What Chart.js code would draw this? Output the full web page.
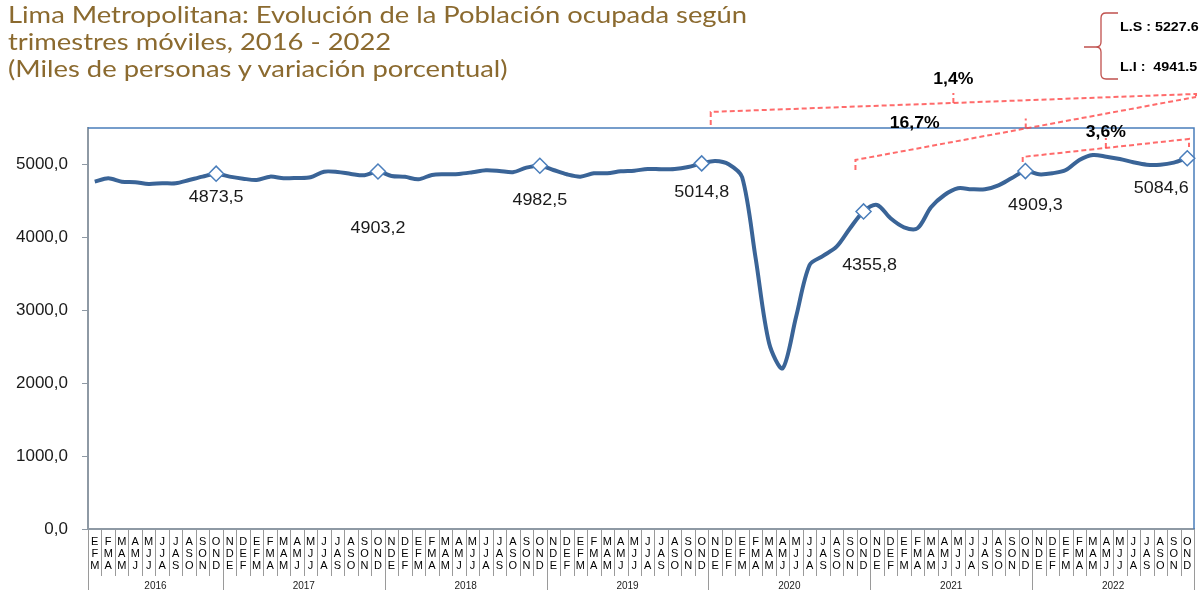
<!DOCTYPE html>
<html>
<head>
<meta charset="utf-8">
<script src="https://cdn.jsdelivr.net/npm/chart.js@4"></script>
<style>
  body { margin: 0; background: #fff; }
  #wrap { position: relative; width: 1203px; height: 590px; overflow: hidden; }
  #myChart { position: absolute; left: 0; top: 0; }
  #titulo {
    position: absolute; left: 8px; top: 1px; white-space: nowrap;
    font-family: Lato, "Open Sans", sans-serif; font-size: 23px; line-height: 27px;
    color: #8B6A2F; transform: scaleX(1.19); transform-origin: left top;
  }
</style>
</head>
<body>
<div id="wrap">
  <canvas id="myChart" width="1203" height="590"></canvas>
  <div id="titulo">Lima Metropolitana: Evolución de la Población ocupada según<br>trimestres móviles, 2016 - 2022<br>(Miles de personas y variación porcentual)</div>
</div>
<script>
const meses = ['E', 'F', 'M', 'A', 'M', 'J', 'J', 'A', 'S', 'O', 'N', 'D'];
const anios = ['2016', '2017', '2018', '2019', '2020', '2021', '2022'];
const trimestresPorAnio = [10, 12, 12, 12, 12, 12, 12];

// Poblacion ocupada, trimestres moviles EFM 2016 - OND 2022 (miles)
const poblacion = [
  4764, 4811, 4764, 4756, 4732, 4742, 4742, 4787, 4833, 4873.5,
  4833, 4805, 4787, 4833, 4811, 4815, 4824, 4901, 4897, 4870, 4852, 4903.2,
  4842, 4830, 4797, 4856, 4865, 4870, 4893, 4920, 4911, 4893, 4956, 4982.5,
  4924, 4865, 4833, 4879, 4879, 4906, 4915, 4938, 4934, 4938, 4966, 5014.8,
  5048, 5003, 4824, 3713, 2547, 2204, 2912, 3621, 3745, 3872, 4125, 4355.8,
  4444, 4262, 4138, 4125, 4413, 4581, 4673, 4660, 4660, 4714, 4815, 4909.3,
  4865, 4879, 4924, 5062, 5130, 5107, 5075, 5030, 4997, 4997, 5025, 5084.6
];
const marcados = [9, 21, 33, 45, 57, 69, 81];
// desplazamiento de cada etiqueta respecto a su rombo
const etiquetaOffset = [[0, 24], [0, 57], [0, 35], [0, 29], [6, 54], [10, 35], [-26, 30]];
const yTicks = [0, 1000, 2000, 3000, 4000, 5000];

const variaciones = ['1,4%', '16,7%', '3,6%'];
const limites = ['L.S : 5227.6', 'L.I :  4941.5'];

// etiquetas de tres letras por trimestre movil
const labels = poblacion.map((_, k) => [meses[k % 12], meses[(k + 1) % 12], meses[(k + 2) % 12]]);

// texto algo estirado en horizontal, como en el original
const texto = (ctx, t, x, y, sx) => {
  ctx.save();
  ctx.translate(x, y);
  ctx.scale(sx, 1);
  ctx.fillText(t, 0, 0);
  ctx.restore();
};

const extras = {
  id: 'extras',
  beforeDatasetsDraw(chart) {
    const { ctx, chartArea: a } = chart;
    ctx.save();
    ctx.strokeStyle = '#4A7EBB';
    ctx.lineWidth = 1.5;
    ctx.beginPath();
    ctx.moveTo(a.left, a.top);
    ctx.lineTo(a.right, a.top);
    ctx.lineTo(a.right, a.bottom);
    ctx.stroke();
    ctx.restore();
  },
  afterDatasetsDraw(chart) {
    const { ctx } = chart;
    const meta = chart.getDatasetMeta(0);
    ctx.save();
    ctx.font = '16px "Liberation Sans", Arial';
    ctx.fillStyle = '#1a1a1a';
    ctx.textAlign = 'center';
    ctx.textBaseline = 'middle';
    marcados.forEach((i, n) => {
      const p = meta.data[i];
      const v = poblacion[i].toFixed(1).replace('.', ',');
      texto(ctx, v, p.x + etiquetaOffset[n][0], p.y + etiquetaOffset[n][1], 1.12);
    });
    ctx.restore();
  },
  afterDraw(chart) {
    const { ctx, chartArea: a, scales: { x, y } } = chart;
    ctx.save();

    // separadores de celdas y anios
    ctx.strokeStyle = '#9A9A9A';
    ctx.lineWidth = 1;
    let limitesAnio = [0];
    trimestresPorAnio.forEach(c => limitesAnio.push(limitesAnio[limitesAnio.length - 1] + c));
    for (let k = 0; k <= poblacion.length; k++) {
      const px = Math.round(x.getPixelForValue(k - 0.5)) + 0.5;
      const largo = limitesAnio.includes(k) ? 61 : 47;
      ctx.beginPath();
      ctx.moveTo(px, a.bottom + 1);
      ctx.lineTo(px, a.bottom + largo);
      ctx.stroke();
    }
    ctx.font = '10px "Liberation Sans", Arial';
    ctx.fillStyle = '#222';
    ctx.textAlign = 'center';
    ctx.textBaseline = 'middle';
    anios.forEach((anio, n) => {
      const cx = (x.getPixelForValue(limitesAnio[n] - 0.5) + x.getPixelForValue(limitesAnio[n + 1] - 0.5)) / 2;
      ctx.fillText(anio, cx, a.bottom + 57);
    });

    // llaves de variacion porcentual
    const P = (i, v) => [x.getPixelForValue(i), y.getPixelForValue(v)];
    ctx.strokeStyle = 'rgba(255, 70, 70, 0.8)';
    ctx.lineWidth = 2;
    ctx.setLineDash([5, 3]);
    const llave = (l, lTick, r, rTick, t) => {
      const L = P(l[0], l[1]), R = P(r[0], r[1]);
      ctx.beginPath();
      ctx.moveTo(L[0], P(l[0], lTick)[1]);
      ctx.lineTo(L[0], L[1]);
      ctx.lineTo(R[0], R[1]);
      ctx.lineTo(R[0], P(r[0], rTick)[1]);
      ctx.stroke();
      const mx = L[0] + (R[0] - L[0]) * t, my = L[1] + (R[1] - L[1]) * t;
      ctx.beginPath();
      ctx.moveTo(mx, my);
      ctx.lineTo(mx, my - 10);
      ctx.stroke();
      return [mx, my];
    };
    const mA = llave([45.67, 5720], 5542, [81.65, 5967], 5898, 0.5);
    const mB = llave([56.4, 5062], 4925, [81.65, 5926], 5926, 0.5);
    const mC = llave([68.8, 5103], 5034, [81.13, 5350], 5240, 0.5);
    ctx.setLineDash([]);

    ctx.font = 'bold 16px "Liberation Sans", Arial';
    ctx.fillStyle = '#000';
    ctx.textAlign = 'center';
    ctx.textBaseline = 'middle';
    texto(ctx, variaciones[0], mA[0], mA[1] - 23, 1.1);
    texto(ctx, variaciones[1], mB[0] - 111, mB[1] - 5, 1.1);
    texto(ctx, variaciones[2], mC[0], mC[1] - 15, 1.1);

    // llave de limites
    ctx.strokeStyle = '#C0504D';
    ctx.lineWidth = 1.3;
    ctx.beginPath();
    ctx.moveTo(1118, 13);
    ctx.lineTo(1106, 13);
    ctx.quadraticCurveTo(1101, 13, 1101, 18);
    ctx.lineTo(1101, 42);
    ctx.quadraticCurveTo(1101, 47, 1096, 47);
    ctx.lineTo(1084, 47);
    ctx.moveTo(1096, 47);
    ctx.quadraticCurveTo(1101, 47, 1101, 52);
    ctx.lineTo(1101, 74);
    ctx.quadraticCurveTo(1101, 79, 1106, 79);
    ctx.lineTo(1118, 79);
    ctx.stroke();
    ctx.font = 'bold 13px "Liberation Sans", Arial';
    ctx.textAlign = 'left';
    texto(ctx, limites[0], 1120, 27, 1.1);
    texto(ctx, limites[1], 1120, 67, 1.1);

    ctx.restore();
  }
};

new Chart(document.getElementById('myChart'), {
  type: 'line',
  data: {
    labels: labels,
    datasets: [{
      data: poblacion,
      borderColor: '#3A6497',
      borderWidth: 4,
      tension: 0.3,
      pointStyle: 'rectRot',
      pointRadius: ctx => marcados.includes(ctx.dataIndex) ? 7.5 : 0,
      pointBackgroundColor: '#fff',
      pointBorderColor: '#4A7EBB',
      pointBorderWidth: 1.5
    }]
  },
  options: {
    responsive: false,
    animation: false,
    layout: { padding: { top: 128, right: 5, left: 0, bottom: 0 } },
    plugins: { legend: { display: false }, tooltip: { enabled: false } },
    scales: {
      x: {
        offset: true,
        grid: { display: false, drawTicks: false },
        border: { display: true, color: '#8E99A4', width: 2 },
        ticks: {
          autoSkip: false, maxRotation: 0, minRotation: 0, padding: 7,
          color: '#000',
          font: { family: '"Liberation Sans", Arial', size: 11, lineHeight: 1.1 }
        },
        afterFit: s => { s.height = 61; }
      },
      y: {
        min: 0, max: 5500,
        afterBuildTicks: s => { s.ticks = yTicks.map(v => ({ value: v })); },
        grid: { drawOnChartArea: false, tickLength: 6, color: '#8E99A4' },
        border: { color: '#8E99A4', width: 2 },
        ticks: {
          padding: 14, color: '#1a1a1a',
          font: { family: '"Liberation Sans", Arial', size: 17 },
          callback: v => v.toFixed(1).replace('.', ',')
        },
        afterFit: s => { s.width = 88; }
      }
    }
  },
  plugins: [extras]
});
</script>
</body>
</html>
